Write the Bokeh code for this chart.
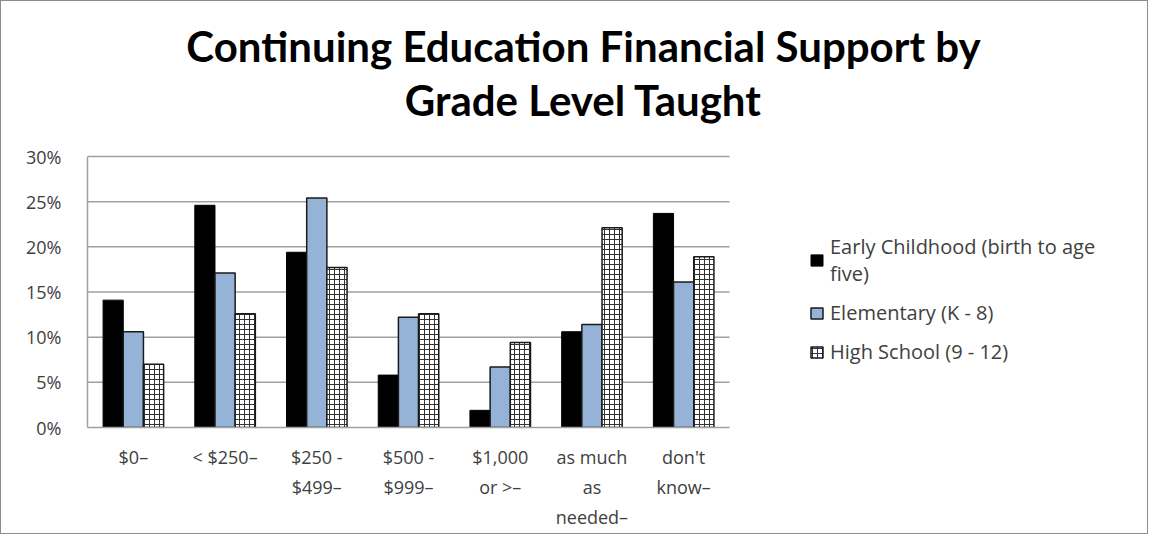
from bokeh.plotting import figure
from bokeh.models import (ColumnDataSource, Range1d, FixedTicker, NumeralTickFormatter,
                          Legend, LegendItem, Label)
from bokeh.transform import dodge
from bokeh.embed import file_html
from bokeh.resources import INLINE

categories = ["$0\u2013", "< $250\u2013", "$250 -\n$499\u2013", "$500 -\n$999\u2013",
              "$1,000\nor >\u2013", "as much\nas\nneeded\u2013", "don't\nknow\u2013"]
early_childhood = [0.141, 0.246, 0.194, 0.058, 0.019, 0.106, 0.237]
elementary = [0.106, 0.171, 0.254, 0.122, 0.067, 0.114, 0.161]
high_school = [0.070, 0.126, 0.177, 0.126, 0.094, 0.221, 0.189]
series_names = ["Early Childhood (birth to age\nfive)", "Elementary (K - 8)", "High School (9 - 12)"]
y_ticks = [0.0, 0.05, 0.10, 0.15, 0.20, 0.25, 0.30]
title_lines = ["Continuing Education Financial Support by", "Grade Level Taught"]

n = len(categories)
centers = [i + 0.5 for i in range(n)]
src = ColumnDataSource(dict(xc=centers, ec=early_childhood, el=elementary, hs=high_school))

FONT = "Open Sans"
TFONT = "Lato"
TXT = "#404040"

W, H = 1148, 534
LEFT, RIGHT_GAP, BOTTOM = 86, 8, 108
FRAME_W = W - LEFT - RIGHT_GAP
FRAME_H = H - BOTTOM
PLOT_W, PLOT_TOP = 642, 155          # width of the category area, top of the value axis
x_end = n * FRAME_W / PLOT_W
y_end = y_ticks[-1] * FRAME_H / (FRAME_H - PLOT_TOP)

p = figure(width=W, height=H, x_range=Range1d(0, x_end), y_range=Range1d(0, y_end),
           output_backend="svg", toolbar_location=None, title=None,
           min_border_left=LEFT, min_border_right=RIGHT_GAP, min_border_top=0,
           min_border_bottom=BOTTOM)
p.outline_line_color = None
p.background_fill_color = "white"
p.border_fill_color = "white"
p.styles = {"border": "1px solid #8c8c8c", "box-sizing": "border-box"}
p.xgrid.grid_line_color = None
p.ygrid.grid_line_color = None

# horizontal gridlines across the category area
p.segment(x0=0, x1=n, y0=y_ticks[1:], y1=y_ticks[1:], line_color="#a0a0a0", line_width=1.5)

bw = 0.22
r1 = p.vbar(x=dodge("xc", -bw), top="ec", width=bw, source=src,
            fill_color="black", line_color="black", line_width=1)
r2 = p.vbar(x=dodge("xc", 0), top="el", width=bw, source=src,
            fill_color="#95B3D7", line_color="#1a1a1a", line_width=1.5)
r3 = p.vbar(x=dodge("xc", bw), top="hs", width=bw, source=src,
            fill_color="white", line_color="#1a1a1a", line_width=1.5,
            hatch_pattern="+", hatch_color="#333333", hatch_scale=5, hatch_weight=1)

p.yaxis.ticker = FixedTicker(ticks=y_ticks)
p.yaxis.formatter = NumeralTickFormatter(format="0%")
p.yaxis.bounds = (0, y_ticks[-1])
p.xaxis.ticker = FixedTicker(ticks=centers)
p.xaxis.major_label_overrides = {c: lab for c, lab in zip(centers, categories)}
p.xaxis.bounds = (0, n)
for ax in (p.xaxis, p.yaxis):
    ax.axis_line_color = "#a0a0a0"
    ax.axis_line_width = 1.5
    ax.major_tick_line_color = None
    ax.minor_tick_line_color = None
    ax.major_label_text_font = FONT
    ax.major_label_text_font_size = "18px"
    ax.major_label_text_color = TXT
p.yaxis.major_label_standoff = 20
p.xaxis.major_label_standoff = 11
p.xaxis.major_label_text_line_height = 1.25

legend = Legend(items=[LegendItem(label=series_names[0], renderers=[r1]),
                       LegendItem(label=series_names[1], renderers=[r2]),
                       LegendItem(label=series_names[2], renderers=[r3])],
                location=(722, 62), padding=0, margin=0, spacing=12,
                glyph_width=15, glyph_height=14, label_standoff=6,
                label_text_font=FONT, label_text_font_size="20px", label_text_color=TXT,
                label_text_line_height=1.3,
                border_line_color=None, background_fill_alpha=0)
p.add_layout(legend, "center")

for txt, yc in zip(title_lines, [44, 98]):
    p.add_layout(Label(x=582 - LEFT, y=FRAME_H - yc, x_units="screen", y_units="screen",
                       text=txt, text_align="center", text_baseline="middle",
                       text_font=TFONT, text_font_style="bold", text_font_size="42px",
                       text_color="black"))

open("out.html", "w").write(file_html(p, INLINE))
